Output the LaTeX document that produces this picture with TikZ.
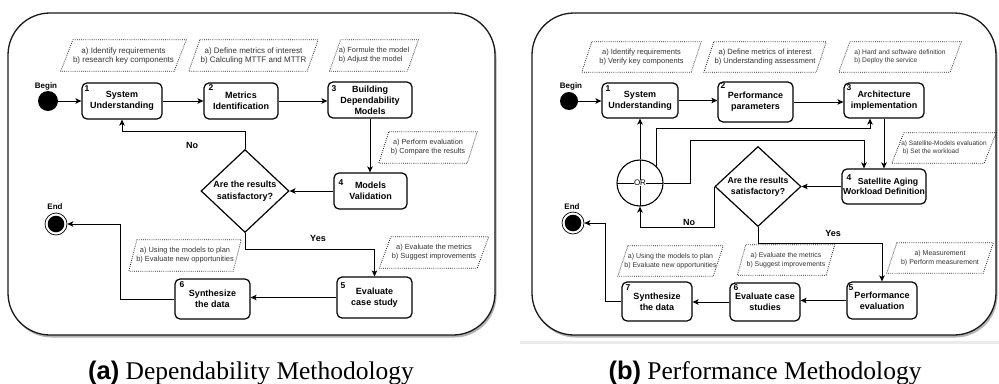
\documentclass[tikz,border=0pt]{standalone}
\usepackage{fontspec}
\setmainfont{Liberation Serif}
\setsansfont{Liberation Sans}
\usetikzlibrary{arrows.meta,shapes.geometric,shadows,calc}

\newcommand{\nf}[2]{\sffamily\fontsize{#1}{#2}\selectfont}
\tikzset{
  panel/.style={draw=black!90, line width=1.3pt, rounded corners=42pt, fill=white,
    drop shadow={shadow xshift=1.5pt, shadow yshift=-2.5pt, fill=black!50, opacity=0.6}},
  stepbox/.style={draw, rounded corners=5pt, line width=1.2pt, align=center, inner sep=0pt,
    font=\sffamily\bfseries\fontsize{9}{11}\selectfont},
  stepnum/.style={inner sep=0pt, font=\sffamily\bfseries\fontsize{8.5}{9}\selectfont},
  note/.style={rectangle, inner sep=0pt, align=center, text=black!80,
    font={\nf{7.5}{9}}},
  notedot/.style={draw=black!90, line width=0.8pt, dash pattern=on 0.8pt off 1.3pt},
  decision/.style={diamond, draw, line width=1.2pt, inner sep=0pt, align=center,
    font=\sffamily\bfseries\fontsize{9}{11.5}\selectfont},
  conn/.style={line width=1pt, -{Stealth[length=6pt,width=5.5pt,inset=1.5pt]}},
  startdot/.style={circle, fill=black, inner sep=0pt},
  enddot/.style={circle, draw, line width=0.7pt, inner sep=0pt, minimum size=22pt,
    path picture={\fill (path picture bounding box.center) circle (8.3pt);}},
  orgate/.style={circle, draw, line width=1.1pt, inner sep=0pt, minimum size=46pt,
    font=\sffamily\fontsize{8}{9}\selectfont,
    path picture={\draw[line width=1pt] (path picture bounding box.north) -- (path picture bounding box.south);
                  \draw[line width=1pt] (path picture bounding box.west) -- (path picture bounding box.east);}},
  flowlbl/.style={font=\sffamily\bfseries\fontsize{9}{10}\selectfont, inner sep=0pt},
  termlbl/.style={font=\sffamily\bfseries\fontsize{8}{9}\selectfont, inner sep=0pt},
  captxt/.style={font=\fontsize{25.5}{30}\selectfont, anchor=base, inner sep=0pt}
}
% parallelogram round a note node: #1 node name, #2 slant
\newcommand{\pgram}[2]{\draw[notedot] ([xshift=#2/2]#1.north west) -- ([xshift=#2/2]#1.north east) -- ([xshift=-#2/2]#1.south east) -- ([xshift=-#2/2]#1.south west) -- cycle;}

\begin{document}
\begin{tikzpicture}[x=1pt, y=-1pt]
\useasboundingbox (0,0) rectangle (999,383);

% ---------------- panels ----------------
\fill[black!8] (520,340.5) rectangle (999,343.5);
\draw[panel] (8,13) rectangle (495,335);
\draw[panel] (532,13) rectangle (996,335);

% ================= (a) Dependability =================
\node[startdot, minimum size=20pt] (lbegin) at (48,101) {};
\node[termlbl] (lbeginlbl) at (46,86) {Begin};

\node[stepbox, minimum width=80pt, minimum height=36pt] (l1) at (122,101) {System\\Understanding};
\node[stepbox, minimum width=74pt, minimum height=36pt] (l2) at (241,101) {Metrics\\Identification};
\node[stepbox, minimum width=84pt, minimum height=36pt] (l3) at (370,100) {Building\\Dependability\\Models};
\node[stepbox, minimum width=73pt, minimum height=36pt] (l4) at (370.5,191) {Models\\Validation};
\node[stepbox, minimum width=75pt, minimum height=41pt] (l5) at (374.5,297.5) {Evaluate\\case study};
\node[stepbox, minimum width=75pt, minimum height=40pt] (l6) at (212.5,299) {Synthesize\\the data};

\node[stepnum] (l1n) at (87,89) {1};
\node[stepnum] (l2n) at (211,88) {2};
\node[stepnum] (l3n) at (334,89) {3};
\node[stepnum] (l4n) at (341,183) {4};
\node[stepnum] (l5n) at (343,286) {5};
\node[stepnum] (l6n) at (182,285) {6};

\node[decision, minimum width=88pt, minimum height=78pt] (ldia) at (245,191) {Are the results\\satisfactory?};

\node[enddot] (lend) at (56,224) {};
\node[termlbl] (lendlbl) at (55,207) {End};

\node[note, minimum width=113pt, minimum height=31pt, font={\nf{8}{9}}] (ln1) at (123.5,55.5) {a) Identify requirements\\b) research key components};
\pgram{ln1}{12}
\node[note, minimum width=118pt, minimum height=31pt, font={\nf{8}{9}}] (ln2) at (253.5,55.5) {a) Define metrics of interest\\b) Calculing MTTF and MTTR};
\pgram{ln2}{11}
\node[note, minimum width=77.5pt, minimum height=31pt, align=left, font={\nf{7.4}{9}}] (ln3) at (374,55.5) {a) Formule the model\\b) Adjust the model};
\pgram{ln3}{11}
\node[note, minimum width=88pt, minimum height=31pt, font={\nf{7.3}{9}}] (ln4) at (428,147.5) {a) Perform evaluation\\b) Compare the results};
\pgram{ln4}{10}
\node[note, minimum width=97.5pt, minimum height=31pt, font={\nf{7.4}{9}}] (ln5) at (434,252.5) {a) Evaluate the metrics\\b) Suggest improvements};
\pgram{ln5}{11.5}
\node[note, minimum width=104pt, minimum height=31pt, font={\nf{7.4}{9}}] (ln6) at (185,255.5) {a) Using the models to plan\\b) Evaluate new opportunities};
\pgram{ln6}{8}

\draw[conn] (lbegin.east) -- (lbegin.east -| l1.west);
\draw[conn] (l1.east) -- (l1.east -| l2.west);
\draw[conn] (l2.east) -- (l2.east -| l3.west);
\draw[conn] (l3.south) -- (l3.south |- l4.north);
\draw[conn] (l4.west) -- (ldia.east);
\draw[conn] (ldia.north) -- ++(0,-17) -| (l1.south);
\draw[conn] (ldia.south) -- ++(0,16) -| (l5.north);
\draw[conn] (l5.west) -- (l5.west -| l6.east);
\draw[conn] (l6.west) -- ++(-54,0) |- (lend.east);

\node[flowlbl] (lno) at (192,145) {No};
\node[flowlbl] (lyes) at (318,238) {Yes};

% ================= (b) Performance =================
\node[startdot, minimum size=18pt] (rbegin) at (569,101) {};
\node[termlbl] (rbeginlbl) at (571,86) {Begin};

\node[stepbox, minimum width=76pt, minimum height=35pt] (r1) at (640,100.5) {System\\Understanding};
\node[stepbox, minimum width=75pt, minimum height=40pt] (r2) at (755.5,102) {Performance\\parameters};
\node[stepbox, minimum width=80pt, minimum height=35pt] (r3) at (884,100.5) {Architecture\\implementation};
\node[stepbox, minimum width=84pt, minimum height=35pt, font=\sffamily\bfseries\fontsize{8.7}{10.5}\selectfont] (r4) at (884,186.5) {\hspace*{8pt}Satellite Aging\\Workload Definition};
\node[stepbox, minimum width=70pt, minimum height=37pt] (r5) at (882,300.5) {Performance\\evaluation};
\node[stepbox, minimum width=70pt, minimum height=38pt] (r6) at (765,302) {Evaluate case\\studies};
\node[stepbox, minimum width=70pt, minimum height=39pt] (r7) at (657,301.5) {Synthesize\\the data};

\node[stepnum] (r1n) at (608,89) {1};
\node[stepnum] (r2n) at (723,86) {2};
\node[stepnum] (r3n) at (849,88) {3};
\node[stepnum] (r4n) at (849,178) {4};
\node[stepnum] (r5n) at (851,288) {5};
\node[stepnum] (r6n) at (736,288) {6};
\node[stepnum] (r7n) at (628,288) {7};

\node[decision, minimum width=86pt, minimum height=74pt, font=\sffamily\bfseries\fontsize{8.7}{11}\selectfont] (rdia) at (758,186.5) {Are the results\\satisfactory?};
\node[orgate] (ror) at (640,183) {{\setlength{\fboxsep}{0.4pt}\colorbox{white}{OR}}};

\node[enddot] (rend) at (573,223) {};
\node[termlbl] (rendlbl) at (572,207) {End};

\node[note, minimum width=109pt, minimum height=30pt, font={\nf{7.5}{9.5}}] (rn1) at (641.5,57) {a) Identify requirements\\b) Verify key components};
\pgram{rn1}{10}
\node[note, minimum width=112pt, minimum height=30pt, font={\nf{7.6}{9.5}}] (rn2) at (765,57) {a) Define metrics of interest\\b) Understanding assessment};
\pgram{rn2}{10}
\node[note, minimum width=111pt, minimum height=30pt, align=left, font={\nf{6.7}{8.5}}] (rn3) at (900,57) {a) Hard and software definition\\b) Deploy the service};
\pgram{rn3}{11}
\node[note, minimum width=92pt, minimum height=30pt, align=left, font={\nf{6.5}{8.5}}] (rn4) at (944,148) {a) Satellite-Models evaluation\\\hspace*{1.5pt}b) Set the workload};
\pgram{rn4}{12}
\node[note, minimum width=96pt, minimum height=30pt, font={\nf{7}{9}}] (rn5) at (940,258) {a) Measurement\\b) Perform measurement};
\pgram{rn5}{10}
\node[note, minimum width=88.5pt, minimum height=30pt, font={\nf{6.9}{8.8}}] (rn6) at (786,260) {a) Evaluate the metrics\\b) Suggest improvements};
\pgram{rn6}{8.5}
\node[note, minimum width=95pt, minimum height=30pt, font={\nf{7}{8.8}}] (rn7) at (670.5,261) {a) Using the models to plan\\b) Evaluate new opportunities};
\pgram{rn7}{10}

\coordinate (rloop1) at (690,140);
\coordinate (rloop2) at (870,128);

\draw[conn] (rbegin.east) -- (rbegin.east -| r1.west);
\draw[conn] (r1.east) -- (r1.east -| r2.west);
\draw[conn] (r2.east) -- (r2.east -| r3.west);
\draw[conn] (r3.south) -- (r3.south |- r4.north);
\draw[conn] (r4.west) -- (rdia.east);
\draw[conn] (rdia.west) -- ++(0,41) -| (ror.south);
\draw[conn] (ror.north) -- (ror.north |- r1.south);
\draw[conn] (ror.east) -| (rloop1) -| ([xshift=-20pt]r4.north);
\draw[conn] (ror.45) |- (rloop2) -- (rloop2 |- r3.south);
\draw[conn] (rdia.south) -- ++(0,16) -| (r5.north);
\draw[conn] (r5.west) -- (r5.west -| r6.east);
\draw[conn] (r6.west) -- (r6.west -| r7.east);
\draw[conn] (r7.west) -- ++(-16,0) |- (rend.east);

\node[flowlbl] (rno) at (689,222) {No};
\node[flowlbl] (ryes) at (833,233) {Yes};

% ---------------- captions ----------------
\node[captxt] (capa) at (251,379) {{\sffamily\bfseries (a)} Dependability Methodology};
\node[captxt] (capb) at (765,379) {{\sffamily\bfseries (b)} Performance Methodology};
\end{tikzpicture}
\end{document}
